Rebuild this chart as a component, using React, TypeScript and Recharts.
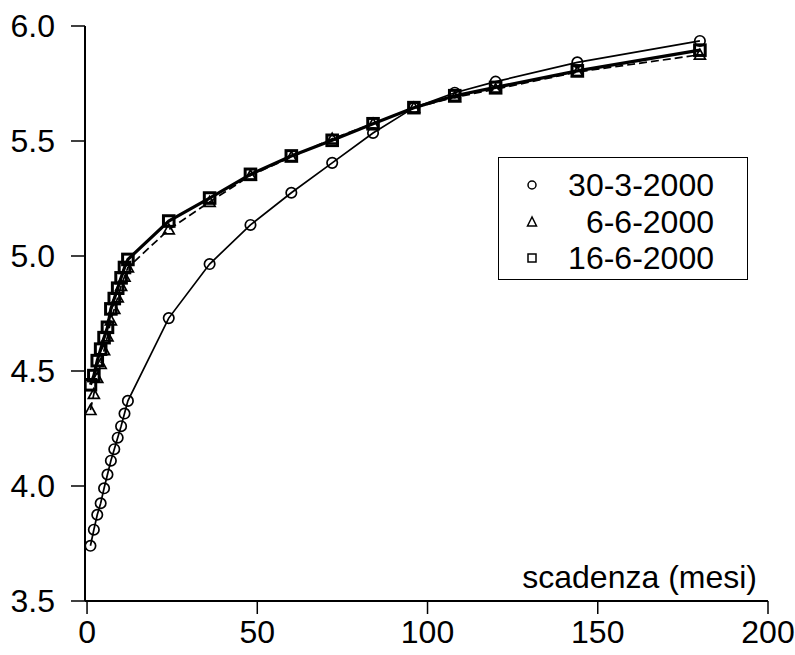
import React from "react";
import { LineChart, Line, XAxis, YAxis } from "recharts";

const months = [1, 2, 3, 4, 5, 6, 7, 8, 9, 10, 11, 12, 24, 36, 48, 60, 72, 84, 96, 108, 120, 144, 180];
const serie30_3 = [3.74, 3.81, 3.875, 3.925, 3.99, 4.05, 4.11, 4.16, 4.21, 4.26, 4.315, 4.37, 4.73, 4.965, 5.135, 5.275, 5.405, 5.535, 5.645, 5.71, 5.758, 5.842, 5.935];
const serie6_6 = [4.33, 4.4, 4.47, 4.53, 4.59, 4.65, 4.72, 4.77, 4.82, 4.87, 4.91, 4.95, 5.115, 5.235, 5.35, 5.43, 5.51, 5.575, 5.645, 5.69, 5.725, 5.8, 5.875];
const serie16_6 = [4.44, 4.48, 4.545, 4.595, 4.645, 4.69, 4.77, 4.815, 4.86, 4.905, 4.95, 4.985, 5.152, 5.252, 5.355, 5.435, 5.503, 5.575, 5.645, 5.697, 5.733, 5.805, 5.895];
const seriesNames = ["30-3-2000", "6-6-2000", "16-6-2000"];
const xTicks = [0, 50, 100, 150, 200];
const yTicks = [3.5, 4.0, 4.5, 5.0, 5.5, 6.0];
const xLabel = "scadenza (mesi)";

const data = months.map((m, i) => ({ m, a: serie30_3[i], b: serie6_6[i], c: serie16_6[i] }));

const FONT = "'Liberation Sans', Arial, sans-serif";
const FS = 32;

const CircleDot = (p: any) => {
  if (p.cx == null || p.cy == null) return <g key={p.key} />;
  return <circle key={p.key} cx={p.cx} cy={p.cy} r={5.2} fill="none" stroke="#000" strokeWidth={1.7} />;
};
const TriDot = (p: any) => {
  if (p.cx == null || p.cy == null) return <g key={p.key} />;
  const s = 5.5;
  const pts = `${p.cx},${p.cy - s} ${p.cx - s},${p.cy + s * 0.8} ${p.cx + s},${p.cy + s * 0.8}`;
  return <polygon key={p.key} points={pts} fill="none" stroke="#000" strokeWidth={1.7} />;
};
const SqDot = (p: any) => {
  if (p.cx == null || p.cy == null) return <g key={p.key} />;
  const s = 5.3;
  return <rect key={p.key} x={p.cx - s} y={p.cy - s} width={2 * s} height={2 * s} fill="none" stroke="#000" strokeWidth={3} />;
};

export default function App() {
  return (
    <div style={{ position: "absolute", left: 0, top: 0, width: 795, height: 655, background: "#fff", fontFamily: FONT }}>
      <LineChart width={795} height={655} data={data} margin={{ top: 26, right: 27, left: 25, bottom: 14 }}>
        <XAxis
          dataKey="m"
          type="number"
          domain={[-0.6, 200]}
          ticks={xTicks}
          allowDataOverflow
          height={40}
          tickSize={13}
          tickMargin={6}
          axisLine={{ stroke: "#000", strokeWidth: 2 }}
          tickLine={{ stroke: "#000", strokeWidth: 1.5 }}
          tick={{ fill: "#000", fontSize: FS, fontFamily: FONT }}
        />
        <YAxis
          type="number"
          domain={[3.5, 6.0]}
          ticks={yTicks}
          allowDataOverflow
          width={60}
          tickSize={14}
          tickMargin={16}
          tickFormatter={(v: number) => v.toFixed(1)}
          axisLine={{ stroke: "#000", strokeWidth: 2 }}
          tickLine={{ stroke: "#000", strokeWidth: 1.5 }}
          tick={{ fill: "#000", fontSize: FS, fontFamily: FONT }}
        />
        <Line dataKey="a" name={seriesNames[0]} type="linear" stroke="#000" strokeWidth={1.7} dot={CircleDot} isAnimationActive={false} />
        <Line dataKey="b" name={seriesNames[1]} type="linear" stroke="#000" strokeWidth={1.7} strokeDasharray="8 4" dot={TriDot} isAnimationActive={false} />
        <Line dataKey="c" name={seriesNames[2]} type="linear" stroke="#000" strokeWidth={3.2} dot={SqDot} isAnimationActive={false} />
      </LineChart>
      <div style={{ position: "absolute", right: 795 - 757, top: 561, fontSize: FS, color: "#000", lineHeight: "32px", whiteSpace: "nowrap" }}>{xLabel}</div>
      <div style={{ position: "absolute", left: 498, top: 157, width: 250, height: 123, boxSizing: "border-box", border: "1.5px solid #000", background: "#fff" }}>
        {seriesNames.map((n, i) => (
          <div key={n} style={{ position: "absolute", left: 0, top: 10 + i * 36.7, width: 250, height: 34 }}>
            <svg width={20} height={20} style={{ position: "absolute", left: 23, top: 7 }}>
              {i === 0 && <circle cx={10} cy={10} r={4} fill="none" stroke="#000" strokeWidth={1.5} />}
              {i === 1 && <polygon points="10,5 5.5,14 14.5,14" fill="none" stroke="#000" strokeWidth={1.5} />}
              {i === 2 && <rect x={6} y={6} width={8} height={8} fill="none" stroke="#000" strokeWidth={1.5} />}
            </svg>
            <div style={{ position: "absolute", right: 250 - 215, top: 0, fontSize: FS, lineHeight: "34px", color: "#000", whiteSpace: "nowrap" }}>{n}</div>
          </div>
        ))}
      </div>
    </div>
  );
}
